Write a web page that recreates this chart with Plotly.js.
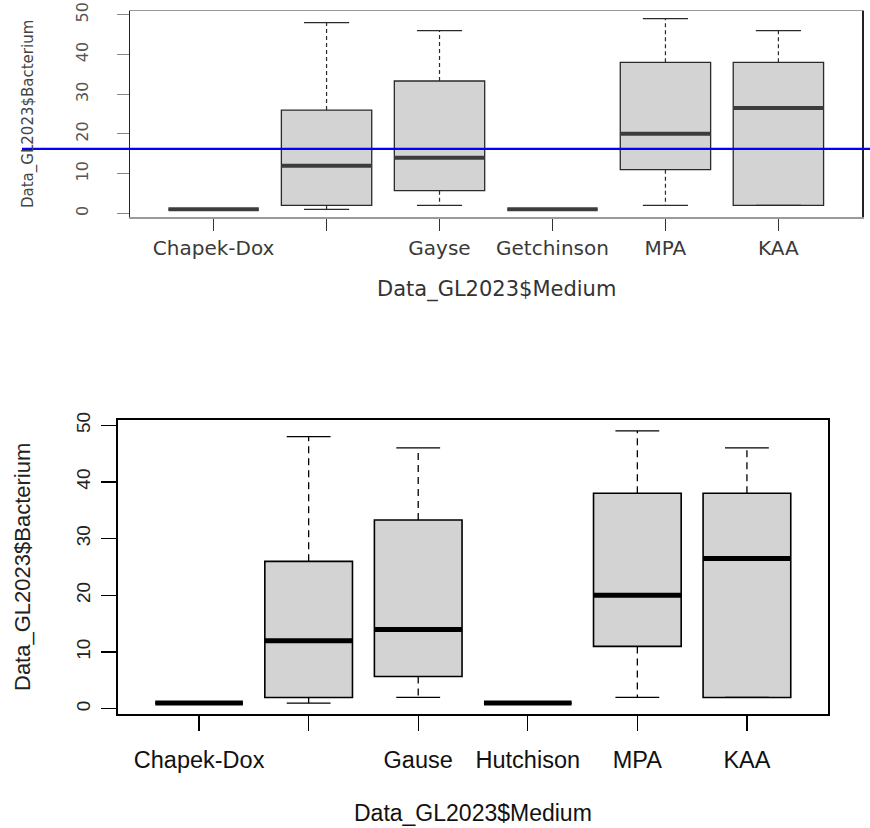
<!DOCTYPE html>
<html>
<head>
<meta charset="utf-8">
<script src="https://cdn.plot.ly/plotly-3.0.1.min.js"></script>
<style>html,body{margin:0;padding:0;background:#fff;}#chart{width:870px;height:828px;}</style>
</head>
<body>
<div id="chart"></div>
<script>
// ---- data ----
const topLabels    = ["Chapek-Dox", "", "Gayse", "Getchinson", "MPA", "KAA"];
const bottomLabels = ["Chapek-Dox", "", "Gause", "Hutchison", "MPA", "KAA"];
const positions    = [1, 2, 3, 4, 5, 6];
const lowerWhisker = [1, 1, 2, 1, 2, 2];
const q1Values     = [1, 2, 5.7, 1, 11, 2];
const medianValues = [1, 12, 14, 1, 20, 26.5];
const q3Values     = [1, 26, 33.3, 1, 38, 38];
const upperWhisker = [1, 48, 46, 1, 49, 46];
const yTicks       = [0, 10, 20, 30, 40, 50];
const blueLineValue = 16.2;
const xTitle = "Data_GL2023$Medium";
const yTitle = "Data_GL2023$Bacterium";

const W = 870, H = 828;
const boxW = 0.8, capHalf = 0.2;

function segs(xs0, xs1, ys0, ys1) {
  const x = [], y = [];
  for (let i = 0; i < xs0.length; i++) { x.push(xs0[i], xs1[i], null); y.push(ys0[i], ys1[i], null); }
  return {x, y};
}

function panelTraces(xa, ya, st) {
  const tr = [];
  tr.push({
    type: 'box', xaxis: xa, yaxis: ya, x: positions,
    q1: q1Values, median: medianValues, q3: q3Values,
    lowerfence: q1Values, upperfence: q3Values,
    width: boxW, fillcolor: '#d3d3d3',
    line: {color: st.boxColor, width: st.boxLw},
    whiskerwidth: 0, showlegend: false, hoverinfo: 'skip'
  });
  // dashed whiskers
  const up = segs(positions, positions, q3Values, upperWhisker);
  const lo = segs(positions, positions, q1Values, lowerWhisker);
  tr.push({type: 'scatter', mode: 'lines', xaxis: xa, yaxis: ya,
    x: up.x.concat(lo.x), y: up.y.concat(lo.y),
    line: {color: st.boxColor, width: st.whLw, dash: st.dash},
    showlegend: false, hoverinfo: 'skip'});
  // staples
  const l = positions.map(p => p - capHalf), r = positions.map(p => p + capHalf);
  const cu = segs(l, r, upperWhisker, upperWhisker);
  const cl = segs(l, r, lowerWhisker, lowerWhisker);
  tr.push({type: 'scatter', mode: 'lines', xaxis: xa, yaxis: ya,
    x: cu.x.concat(cl.x), y: cu.y.concat(cl.y),
    line: {color: st.boxColor, width: st.whLw},
    showlegend: false, hoverinfo: 'skip'});
  // medians
  const ml = positions.map(p => p - boxW / 2), mr = positions.map(p => p + boxW / 2);
  const md = segs(ml, mr, medianValues, medianValues);
  tr.push({type: 'scatter', mode: 'lines', xaxis: xa, yaxis: ya,
    x: md.x, y: md.y, line: {color: st.medColor, width: st.medLw},
    showlegend: false, hoverinfo: 'skip'});
  return tr;
}

const topStyle = {boxColor: '#2a2a2a', boxLw: 1.3, whLw: 1.2, dash: '4px,3px', medColor: '#3c3c3c', medLw: 4};
const botStyle = {boxColor: '#000', boxLw: 1.6, whLw: 1.3, dash: '7px,5px', medColor: '#000', medLw: 5};

const data = panelTraces('x', 'y', topStyle).concat(panelTraces('x2', 'y2', botStyle));

const xRange = [0.26, 6.74];
const yRange = [-0.92, 50.92];
const topFont = 'DejaVu Sans, Liberation Sans, Arial, sans-serif';
const arial = 'Liberation Sans, Arial, sans-serif';

const layout = {
  width: W, height: H,
  margin: {l: 0, r: 0, t: 0, b: 0},
  paper_bgcolor: '#fff', plot_bgcolor: '#fff',
  showlegend: false,
  xaxis: {
    domain: [130 / W, 862 / W], anchor: 'y', range: xRange,
    tickmode: 'array', tickvals: positions, ticktext: topLabels,
    ticks: 'outside', ticklen: 12, tickcolor: '#333', tickwidth: 1.2,
    showline: true, mirror: true, linecolor: '#9a9a9a', linewidth: 1.5,
    showgrid: false, zeroline: false, ticklabelstandoff: 0,
    tickfont: {family: topFont, size: 20, color: '#3a3a3a'}
  },
  yaxis: {
    domain: [1 - 217 / H, 1 - 11 / H], anchor: 'x', range: yRange,
    tickmode: 'array', tickvals: yTicks,
    ticks: 'outside', ticklen: 12, tickcolor: '#888', tickwidth: 1.2,
    showline: true, mirror: true, linecolor: '#222', linewidth: 1.5,
    showgrid: false, zeroline: false, tickangle: -90, ticklabelstandoff: 22,
    tickfont: {family: topFont, size: 16, color: '#555'}
  },
  xaxis2: {
    domain: [118 / W, 828 / W], anchor: 'y2', range: xRange,
    tickmode: 'array', tickvals: positions, ticktext: bottomLabels,
    ticks: 'outside', ticklen: 15, tickcolor: '#000', tickwidth: 1.2,
    showline: true, mirror: true, linecolor: '#000', linewidth: 1.6,
    showgrid: false, zeroline: false, ticklabelstandoff: 9,
    tickfont: {family: arial, size: 23.5, color: '#111'}
  },
  yaxis2: {
    domain: [1 - 714 / H, 1 - 420 / H], anchor: 'x2', range: yRange,
    tickmode: 'array', tickvals: yTicks,
    ticks: 'outside', ticklen: 15, tickcolor: '#000', tickwidth: 1.2,
    showline: true, mirror: true, linecolor: '#000', linewidth: 1.6,
    showgrid: false, zeroline: false, tickangle: -90, ticklabelstandoff: 4,
    tickfont: {family: arial, size: 19, color: '#222'}
  },
  shapes: [{
    type: 'line', xref: 'paper', yref: 'y',
    x0: 22 / W, x1: 1, y0: blueLineValue, y1: blueLineValue,
    line: {color: '#0000ff', width: 2.2}
  }],
  annotations: [
    {text: xTitle, xref: 'paper', yref: 'paper', x: 496 / W, y: 1 - 289 / H,
     xanchor: 'center', yanchor: 'middle', showarrow: false,
     font: {family: topFont, size: 21, color: '#333'}},
    {text: yTitle, xref: 'paper', yref: 'paper', x: 29 / W, y: 1 - 114 / H,
     xanchor: 'center', yanchor: 'middle', showarrow: false, textangle: -90,
     font: {family: topFont, size: 15, color: '#444'}},
    {text: xTitle, xref: 'paper', yref: 'paper', x: 473 / W, y: 1 - 813 / H,
     xanchor: 'center', yanchor: 'middle', showarrow: false,
     font: {family: arial, size: 23, color: '#111'}},
    {text: yTitle, xref: 'paper', yref: 'paper', x: 22 / W, y: 1 - 567 / H,
     xanchor: 'center', yanchor: 'middle', showarrow: false, textangle: -90,
     font: {family: arial, size: 22, color: '#222'}}
  ]
};

Plotly.newPlot('chart', data, layout, {staticPlot: true, displayModeBar: false});
</script>
</body>
</html>
